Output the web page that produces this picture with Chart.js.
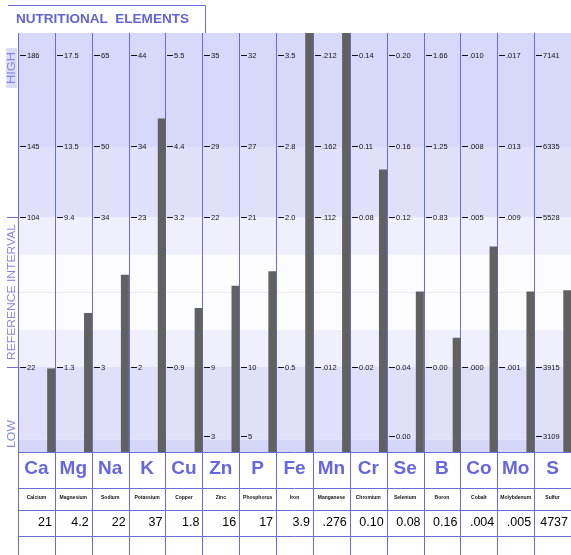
<!DOCTYPE html>
<html>
<head>
<meta charset="utf-8">
<script src="https://cdn.jsdelivr.net/npm/chart.js@4"></script>
<style>
  html, body { margin: 0; padding: 0; background: #fff; overflow: hidden; }
  canvas { display: block; }
</style>
</head>
<body>
<canvas id="chart" width="571" height="555"></canvas>
<script>
const symbols = ['Ca', 'Mg', 'Na', 'K', 'Cu', 'Zn', 'P', 'Fe', 'Mn', 'Cr', 'Se', 'B', 'Co', 'Mo', 'S'];
const names = ['Calcium', 'Magnesium', 'Sodium', 'Potassium', 'Copper', 'Zinc', 'Phosphorus', 'Iron',
    'Manganese', 'Chromium', 'Selenium', 'Boron', 'Cobalt', 'Molybdenum', 'Sulfur'];
const results = ['21', '4.2', '22', '37', '1.8', '16', '17', '3.9', '.276', '0.10', '0.08', '0.16', '.004', '.005', '4737'];

// reference ticks per element, from low to high
const tickLow = [null, null, null, null, null, '3', '5', null, null, null, '0.00', null, null, null, '3109'];
const tickRefLow = ['22', '1.3', '3', '2', '0.9', '9', '10', '0.5', '.012', '0.02', '0.04', '0.00', '.000', '.001', '3915'];
const tickRefHigh = ['104', '9.4', '34', '23', '3.2', '22', '21', '2.0', '.112', '0.08', '0.12', '0.83', '.005', '.009', '5528'];
const tickUpper = ['145', '13.5', '50', '34', '4.4', '29', '27', '2.8', '.162', '0.11', '0.16', '1.25', '.008', '.013', '6335'];
const tickHigh = ['186', '17.5', '65', '44', '5.5', '35', '32', '3.5', '.212', '0.14', '0.20', '1.66', '.010', '.017', '7141'];

// where each tick row sits on the 0-100 chart scale
const ROWS = [3.8, 20.3, 56.1, 73.0, 94.7];
const TICK_SETS = [tickLow, tickRefLow, tickRefHigh, tickUpper, tickHigh];

const BLUE_LINE = '#6c6cd8';
const BLUE_TEXT = '#6666e0';

// piecewise-linear position of a result between its column's ticks
function levelOf(i) {
    const v = parseFloat(results[i]);
    const pts = [];
    TICK_SETS.forEach((set, r) => {
        if (set[i] !== null) pts.push([parseFloat(set[i]), ROWS[r]]);
    });
    let seg = 0;
    while (seg < pts.length - 2 && v > pts[seg + 1][0]) seg++;
    const [v0, p0] = pts[seg];
    const [v1, p1] = pts[seg + 1];
    const pos = p0 + (v - v0) / (v1 - v0) * (p1 - p0);
    return Math.max(0, Math.min(100, pos));
}

const barLevels = symbols.map((s, i) => levelOf(i));
const empty = symbols.map(() => null);

const backdrop = {
    id: 'backdrop',
    beforeDatasetsDraw(chart) {
        const { ctx, chartArea: a, scales: { y } } = chart;
        const bands = [
            [100, 72.8, '#d8d8fa'],
            [72.8, 56.1, '#e0e0fb'],
            [56.1, 47.0, '#efeffd'],
            [47.0, 29.1, '#fcfcff'],
            [29.1, 20.3, '#efeffd'],
            [20.3, 2.9, '#e0e0fb'],
            [2.9, 0, '#d6d6f8']
        ];
        ctx.save();
        bands.forEach(([hi, lo, c]) => {
            const t = y.getPixelForValue(hi);
            const b = y.getPixelForValue(lo);
            ctx.fillStyle = c;
            ctx.fillRect(a.left, t, a.right - a.left, b - t);
        });
        // faint mid line of the reference interval
        ctx.strokeStyle = '#ececf8';
        ctx.lineWidth = 1;
        const mid = Math.round(y.getPixelForValue(38.1)) + 0.5;
        ctx.beginPath();
        ctx.moveTo(a.left, mid);
        ctx.lineTo(a.right, mid);
        ctx.stroke();

        // column lines
        const colW = (a.right - a.left) / symbols.length;
        ctx.strokeStyle = BLUE_LINE;
        for (let i = 0; i <= symbols.length; i++) {
            const x = Math.round(a.left + i * colW) + 0.5;
            ctx.beginPath();
            ctx.moveTo(x, a.top);
            ctx.lineTo(x, chart.height);
            ctx.stroke();
        }

        // tick dashes and labels
        ctx.font = '7.5px "Liberation Sans", Arial, sans-serif';
        ctx.textBaseline = 'middle';
        ctx.textAlign = 'left';
        TICK_SETS.forEach((set, r) => {
            const py = Math.round(y.getPixelForValue(ROWS[r])) + 0.5;
            set.forEach((label, i) => {
                if (label === null) return;
                const x = Math.round(a.left + i * colW);
                ctx.strokeStyle = '#111';
                ctx.beginPath();
                ctx.moveTo(x + 2, py);
                ctx.lineTo(x + 8, py);
                ctx.stroke();
                ctx.fillStyle = '#111';
                ctx.fillText(label, x + 9, py);
            });
        });
        ctx.restore();
    },
    afterDraw(chart) {
        const { ctx, chartArea: a, scales: { y } } = chart;
        const colW = (a.right - a.left) / symbols.length;
        ctx.save();

        // table rows
        const rowLines = [a.bottom, 488, 510, 536];
        ctx.strokeStyle = BLUE_LINE;
        ctx.lineWidth = 1;
        rowLines.forEach(ry => {
            const yy = Math.round(ry) + 0.5;
            ctx.beginPath();
            ctx.moveTo(a.left, yy);
            ctx.lineTo(a.right, yy);
            ctx.stroke();
        });

        ctx.textBaseline = 'middle';
        symbols.forEach((s, i) => {
            const x0 = a.left + i * colW;
            ctx.textAlign = 'center';
            ctx.fillStyle = BLUE_TEXT;
            ctx.font = 'bold 19px "Liberation Sans", Arial, sans-serif';
            ctx.fillText(s, x0 + colW / 2, 469);
            ctx.fillStyle = '#111';
            ctx.font = 'bold 5px "Liberation Sans", Arial, sans-serif';
            ctx.fillText(names[i], x0 + colW / 2, 498, colW - 2);
            ctx.textAlign = 'right';
            ctx.font = '12.5px "Liberation Sans", Arial, sans-serif';
            ctx.fillStyle = '#000';
            ctx.fillText(results[i], x0 + colW - 3, 523);
        });

        // left strip
        ctx.strokeStyle = BLUE_LINE;
        [ROWS[1], ROWS[2]].forEach(v => {
            const yy = Math.round(y.getPixelForValue(v)) + 0.5;
            ctx.beginPath();
            ctx.moveTo(7, yy);
            ctx.lineTo(a.left, yy);
            ctx.stroke();
        });
        ctx.fillStyle = '#dcdcfa';
        ctx.fillRect(6, 48, 11, 40);
        const side = (text, cy, len, size) => {
            ctx.save();
            ctx.translate(12, cy);
            ctx.rotate(-Math.PI / 2);
            ctx.font = size + 'px "Liberation Sans", Arial, sans-serif';
            const w = ctx.measureText(text).width;
            ctx.scale(len / w, 1);
            ctx.textAlign = 'center';
            ctx.textBaseline = 'middle';
            ctx.fillStyle = '#8585e2';
            ctx.fillText(text, 0, 0);
            ctx.restore();
        };
        side('HIGH', 68, 32, 10);
        side('REFERENCE INTERVAL', 292, 136, 11);
        side('LOW', 434, 28, 11);

        // title box
        ctx.strokeStyle = BLUE_LINE;
        ctx.beginPath();
        ctx.moveTo(8, 5.5);
        ctx.lineTo(205.5, 5.5);
        ctx.lineTo(205.5, a.top);
        ctx.stroke();
        ctx.save();
        ctx.font = 'bold 16px "Liberation Sans", Arial, sans-serif';
        const tw = ctx.measureText('NUTRITIONAL  ELEMENTS').width;
        ctx.translate(16, 19);
        ctx.scale(173 / tw, 0.85);
        ctx.textAlign = 'left';
        ctx.textBaseline = 'middle';
        ctx.fillStyle = '#6464d4';
        ctx.fillText('NUTRITIONAL  ELEMENTS', 0, 0);
        ctx.restore();

        ctx.restore();
    }
};

new Chart(document.getElementById('chart'), {
    type: 'bar',
    data: {
        labels: symbols,
        datasets: [
            { data: empty }, { data: empty }, { data: empty }, { data: empty },
            {
                label: 'Result',
                data: barLevels,
                backgroundColor: '#616161',
                borderWidth: 0
            }
        ]
    },
    options: {
        responsive: false,
        animation: false,
        datasets: { bar: { categoryPercentage: 1, barPercentage: 1 } },
        layout: { padding: { left: 18, top: 33, right: 0, bottom: 103 } },
        scales: {
            x: { display: false },
            y: { display: false, min: 0, max: 100 }
        },
        plugins: {
            legend: { display: false },
            tooltip: { enabled: false }
        }
    },
    plugins: [backdrop]
});
</script>
</body>
</html>
